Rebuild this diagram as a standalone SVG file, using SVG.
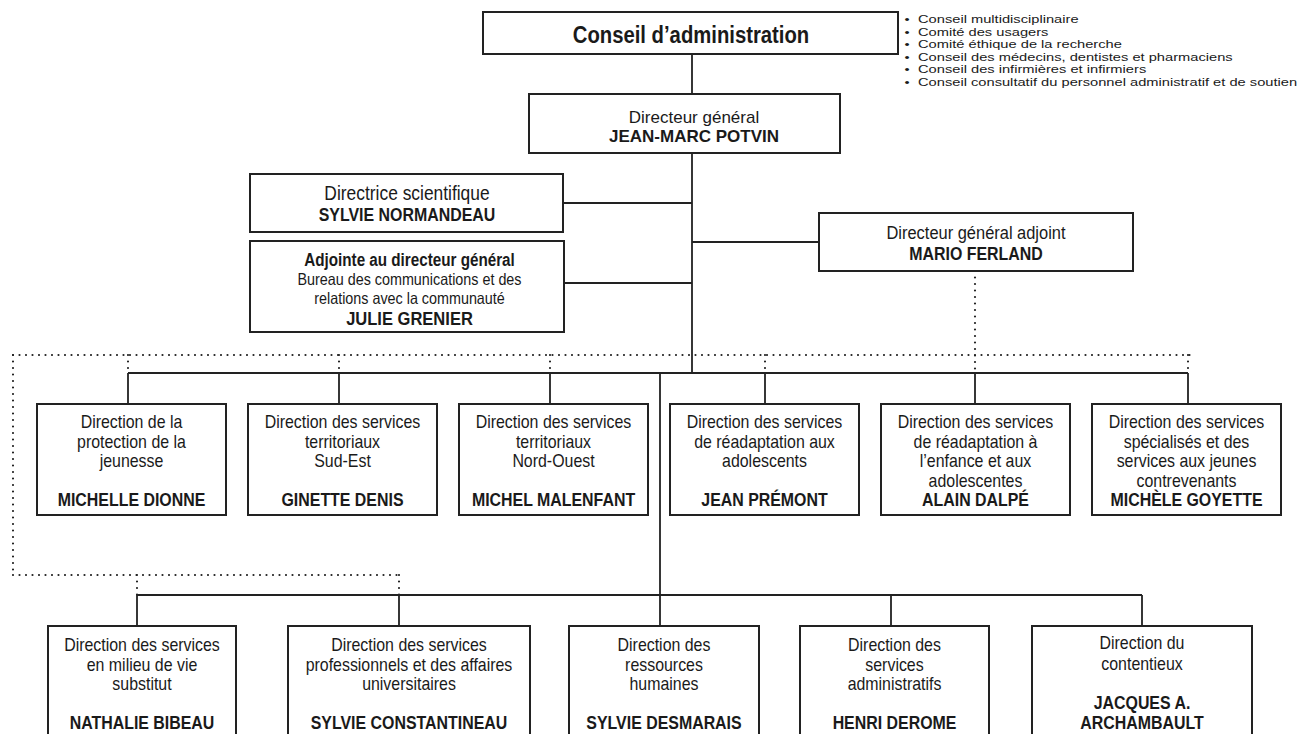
<svg xmlns="http://www.w3.org/2000/svg" width="1304" height="734" viewBox="0 0 1304 734">
<style>
.box{fill:#fff;stroke:#222;stroke-width:2}
.ln{stroke:#222;stroke-width:1.8;fill:none}
.dot{stroke:#222;stroke-width:2.2;fill:none;stroke-linecap:round;stroke-dasharray:0 6.5}
text{font-family:"Liberation Sans",Arial,sans-serif;fill:#1a1a1a;text-anchor:middle}
.t{font-size:18.3px}
.n{font-size:18.3px;font-weight:bold}
.bl{font-size:11.2px;text-anchor:start}
.bu{font-size:11.2px}
</style>
<rect width="1304" height="734" fill="#fff"/>

<g id="connectors">
  <path class="ln" d="M692 54V94 M692 153V373 M563 203H692 M564 283H692 M692 242H819"/>
  <path class="ln" d="M128 373H1188 M128 373V404 M339 373V404 M550 373V404 M765 373V404 M975 373V404 M1188 373V404"/>
  <path class="ln" d="M660 373V626 M137 595H1142 M137 595V626 M399 595V626 M891 595V626 M1142 595V626"/>
  <path class="dot" d="M975 271V373"/>
  <path class="dot" d="M13 355H1192"/>
  <path class="dot" d="M128 355V373 M339 355V373 M550 355V373 M765 355V373 M1188 355V373"/>
  <path class="dot" d="M13 355V575 M13 575H399 M137 575V595 M399 575V595"/>
</g>

<g id="conseil">
  <rect class="box" x="483" y="12" width="415" height="42"/>
  <g transform="translate(691,0) scale(0.87,1)"><text x="0" y="43" style="font-size:23.3px;font-weight:bold">Conseil d’administration</text></g>
</g>

<g id="comites" transform="translate(918,0) scale(1.31,1)">
  <text class="bu" x="-8.4" y="23">•</text><text class="bl" x="0" y="23">Conseil multidisciplinaire</text>
  <text class="bu" x="-8.4" y="35.6">•</text><text class="bl" x="0" y="35.6">Comité des usagers</text>
  <text class="bu" x="-8.4" y="48.2">•</text><text class="bl" x="0" y="48.2">Comité éthique de la recherche</text>
  <text class="bu" x="-8.4" y="60.8">•</text><text class="bl" x="0" y="60.8">Conseil des médecins, dentistes et pharmaciens</text>
  <text class="bu" x="-8.4" y="73.4">•</text><text class="bl" x="0" y="73.4">Conseil des infirmières et infirmiers</text>
  <text class="bu" x="-8.4" y="86">•</text><text class="bl" x="0" y="86">Conseil consultatif du personnel administratif et de soutien</text>
</g>

<g id="dg">
  <rect class="box" x="529" y="94" width="311" height="59"/>
  <text x="694" y="122.5" style="font-size:17px">Directeur général</text>
  <text x="694" y="142" style="font-size:17px;font-weight:bold">JEAN-MARC POTVIN</text>
</g>

<g id="directrice-scientifique">
  <rect class="box" x="250" y="174" width="313" height="58"/>
  <g transform="translate(407,0) scale(0.87,1)">
    <text x="0" y="200.5" style="font-size:20px">Directrice scientifique</text>
    <text x="0" y="221.5" class="n">SYLVIE NORMANDEAU</text>
  </g>
</g>

<g id="adjointe">
  <rect class="box" x="250" y="241" width="314" height="91"/>
  <g transform="translate(409.5,0) scale(0.87,1)">
    <text x="0" y="266" style="font-size:17.5px;font-weight:bold">Adjointe au directeur général</text>
    <text x="0" y="285" style="font-size:16.5px">Bureau des communications et des</text>
    <text x="0" y="304" style="font-size:16.5px">relations avec la communauté</text>
    <text x="0" y="325" style="font-size:19px;font-weight:bold">JULIE GRENIER</text>
  </g>
</g>

<g id="dga">
  <rect class="box" x="819" y="213" width="314" height="58"/>
  <g transform="translate(976,0) scale(0.87,1)">
    <text x="0" y="239" style="font-size:18.9px">Directeur général adjoint</text>
    <text x="0" y="260" class="n">MARIO FERLAND</text>
  </g>
</g>

<g id="dpj">
  <rect class="box" x="37" y="404" width="189" height="111"/>
  <g transform="translate(131.5,0) scale(0.87,1)">
    <text x="0" y="428.5" class="t">Direction de la</text>
    <text x="0" y="448" class="t">protection de la</text>
    <text x="0" y="467.5" class="t">jeunesse</text>
    <text x="0" y="506.5" class="n">MICHELLE DIONNE</text>
  </g>
</g>

<g id="dst-sud-est">
  <rect class="box" x="248" y="404" width="189" height="111"/>
  <g transform="translate(342.5,0) scale(0.87,1)">
    <text x="0" y="428.5" class="t">Direction des services</text>
    <text x="0" y="448" class="t">territoriaux</text>
    <text x="0" y="467.5" class="t">Sud-Est</text>
    <text x="0" y="506.5" class="n">GINETTE DENIS</text>
  </g>
</g>

<g id="dst-nord-ouest">
  <rect class="box" x="459" y="404" width="189" height="111"/>
  <g transform="translate(553.5,0) scale(0.87,1)">
    <text x="0" y="428.5" class="t">Direction des services</text>
    <text x="0" y="448" class="t">territoriaux</text>
    <text x="0" y="467.5" class="t">Nord-Ouest</text>
    <text x="0" y="506.5" class="n">MICHEL MALENFANT</text>
  </g>
</g>

<g id="dsra">
  <rect class="box" x="670" y="404" width="189" height="111"/>
  <g transform="translate(764.5,0) scale(0.87,1)">
    <text x="0" y="428.5" class="t">Direction des services</text>
    <text x="0" y="448" class="t">de réadaptation aux</text>
    <text x="0" y="467.5" class="t">adolescents</text>
    <text x="0" y="506.5" class="n">JEAN PRÉMONT</text>
  </g>
</g>

<g id="dsrea">
  <rect class="box" x="881" y="404" width="189" height="111"/>
  <g transform="translate(975.5,0) scale(0.87,1)">
    <text x="0" y="428.5" class="t">Direction des services</text>
    <text x="0" y="448" class="t">de réadaptation à</text>
    <text x="0" y="467.5" class="t">l’enfance et aux</text>
    <text x="0" y="487" class="t">adolescentes</text>
    <text x="0" y="506.5" class="n">ALAIN DALPÉ</text>
  </g>
</g>

<g id="dss">
  <rect class="box" x="1092" y="404" width="189" height="111"/>
  <g transform="translate(1186.5,0) scale(0.87,1)">
    <text x="0" y="428.5" class="t">Direction des services</text>
    <text x="0" y="448" class="t">spécialisés et des</text>
    <text x="0" y="467.5" class="t">services aux jeunes</text>
    <text x="0" y="487" class="t">contrevenants</text>
    <text x="0" y="506.5" class="n">MICHÈLE GOYETTE</text>
  </g>
</g>

<g id="dsmvs">
  <rect class="box" x="48" y="626" width="188" height="130"/>
  <g transform="translate(142,0) scale(0.87,1)">
    <text x="0" y="651.5" class="t">Direction des services</text>
    <text x="0" y="671" class="t">en milieu de vie</text>
    <text x="0" y="690.5" class="t">substitut</text>
    <text x="0" y="729.5" class="n">NATHALIE BIBEAU</text>
  </g>
</g>

<g id="dspau">
  <rect class="box" x="288" y="626" width="242" height="130"/>
  <g transform="translate(409,0) scale(0.87,1)">
    <text x="0" y="651.5" class="t">Direction des services</text>
    <text x="0" y="671" class="t">professionnels et des affaires</text>
    <text x="0" y="690.5" class="t">universitaires</text>
    <text x="0" y="729.5" class="n">SYLVIE CONSTANTINEAU</text>
  </g>
</g>

<g id="drh">
  <rect class="box" x="569" y="626" width="190" height="130"/>
  <g transform="translate(664,0) scale(0.87,1)">
    <text x="0" y="651.5" class="t">Direction des</text>
    <text x="0" y="671" class="t">ressources</text>
    <text x="0" y="690.5" class="t">humaines</text>
    <text x="0" y="729.5" class="n">SYLVIE DESMARAIS</text>
  </g>
</g>

<g id="dsa">
  <rect class="box" x="800" y="626" width="189" height="130"/>
  <g transform="translate(894.5,0) scale(0.87,1)">
    <text x="0" y="651.5" class="t">Direction des</text>
    <text x="0" y="671" class="t">services</text>
    <text x="0" y="690.5" class="t">administratifs</text>
    <text x="0" y="729.5" class="n">HENRI DEROME</text>
  </g>
</g>

<g id="dc">
  <rect class="box" x="1032" y="626" width="220" height="130"/>
  <g transform="translate(1142,0) scale(0.87,1)">
    <text x="0" y="649.5" class="t">Direction du</text>
    <text x="0" y="670" class="t">contentieux</text>
    <text x="0" y="709.5" class="n">JACQUES A.</text>
    <text x="0" y="729" class="n">ARCHAMBAULT</text>
  </g>
</g>
</svg>
